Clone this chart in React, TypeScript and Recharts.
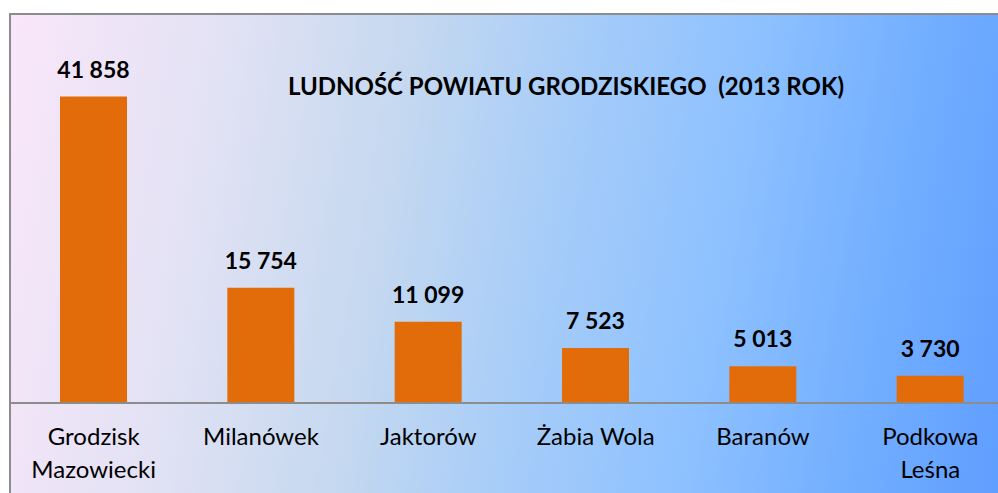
import React from "react";
import { BarChart, Bar, XAxis, YAxis, LabelList } from "recharts";

const categories = ["Grodzisk\nMazowiecki", "Milanówek", "Jaktorów", "Żabia Wola", "Baranów", "Podkowa\nLeśna"];
const population = [41858, 15754, 11099, 7523, 5013, 3730];
const title = "LUDNOŚĆ POWIATU GRODZISKIEGO  (2013 ROK)";

const data = categories.map((name, i) => ({ name, value: population[i] }));

const FONT = "Lato, 'Open Sans', sans-serif";

const fmt = (v: number) => String(v).replace(/\B(?=(\d{3})+(?!\d))/g, " ");

const CatTick = (props: any) => {
  const { x, y, payload } = props;
  const lines = String(payload.value).split("\n");
  return (
    <text x={x} y={y} textAnchor="middle" fill="#000" fontSize={24} fontFamily={FONT}>
      {lines.map((l, i) => (
        <tspan key={i} x={x} y={y + 34 + i * 33}>
          {l}
        </tspan>
      ))}
    </text>
  );
};

export default function App() {
  return (
    <div style={{ position: "absolute", left: 0, top: 0, width: 998, height: 493, overflow: "hidden", background: "#fff" }}>
      <div
        style={{
          position: "absolute",
          left: 9,
          top: 13,
          width: 1000,
          height: 490,
          borderTop: "2px solid #8c8c8c",
          borderLeft: "2px solid #8c8c8c",
          background:
            "linear-gradient(100deg, #FAE6FA 0%, #E2E2F4 20%, #C4D8F0 38%, #A8CDF8 52%, #8CC0FF 70%, #72AEFF 85%, #5E9CFF 100%)",
        }}
      />
      <div
        style={{
          position: "absolute",
          left: 0,
          width: 1132,
          top: 71,
          textAlign: "center",
          fontFamily: FONT,
          fontWeight: "bold",
          fontSize: 24,
          whiteSpace: "pre",
          color: "#000",
          lineHeight: "30px",
        }}
      >
        {title}
      </div>
      <div style={{ position: "absolute", left: 0, top: 0 }}>
        <BarChart width={1016} height={493} data={data} margin={{ top: 37, right: 2, left: 10, bottom: 0 }}>
          <XAxis
            dataKey="name"
            height={90}
            interval={0}
            axisLine={{ stroke: "#8c8c8c", strokeWidth: 2 }}
            tickLine={false}
            tick={<CatTick />}
          />
          <YAxis hide domain={[0, 50000]} />
          <Bar dataKey="value" fill="#E36C0A" barSize={67} isAnimationActive={false}>
            <LabelList
              dataKey="value"
              position="top"
              offset={19}
              formatter={(v: any) => fmt(Number(v))}
              style={{ fontFamily: FONT, fontWeight: "bold", fontSize: 23, fill: "#000" }}
            />
          </Bar>
        </BarChart>
      </div>
    </div>
  );
}
